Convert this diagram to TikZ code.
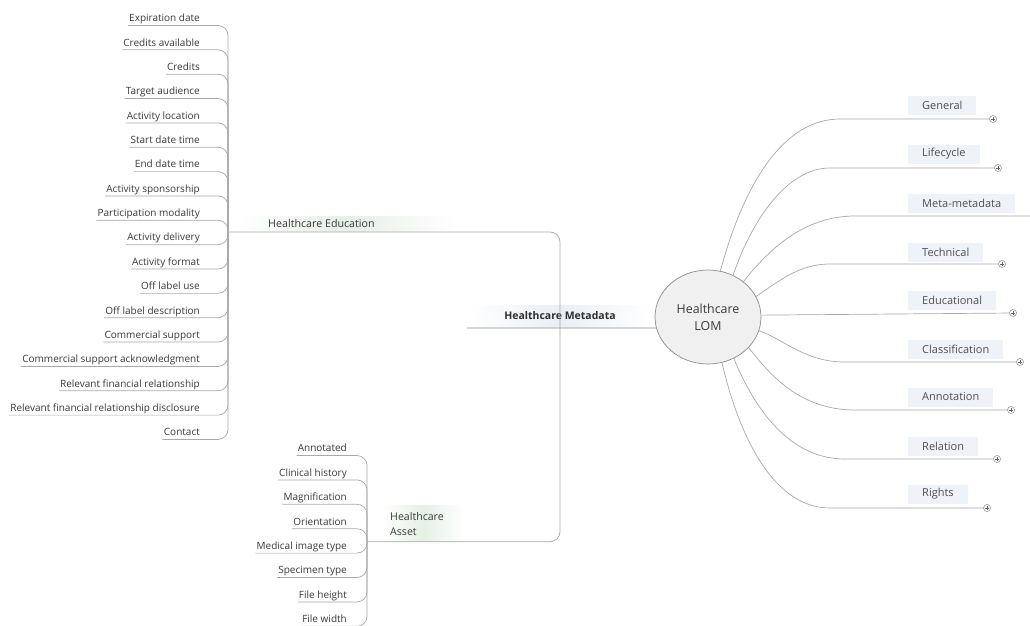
\documentclass[tikz,border=0pt]{standalone}
\usepackage{fontspec}
\setmainfont{Open Sans}
\usetikzlibrary{shapes.geometric}
\definecolor{txt}{HTML}{3A3A3A}
\definecolor{rtxt}{HTML}{505050}
\definecolor{ln}{HTML}{A9A9A9}
\definecolor{bluebg}{HTML}{EEF2F9}
\definecolor{greenbg}{HTML}{E4F1E4}
\definecolor{metabg}{HTML}{EAEFF6}
\definecolor{lomfill}{HTML}{F0F0F0}
\definecolor{lomdraw}{HTML}{8C8C8C}
\tikzset{
  conn/.style={draw=ln, line width=0.7pt},
  leaf/.style={anchor=base east, inner xsep=1pt, inner ysep=0pt, text depth=3.5pt, text height=7pt, font=\fontsize{10}{11}\selectfont, text=txt},
  rlabel/.style={anchor=west, fill=bluebg, inner xsep=14pt, minimum height=19pt, font=\fontsize{11}{12}\selectfont, text=rtxt},
  expander/.style={circle, draw=ln!80!black, fill=white, minimum size=7pt, inner sep=0pt, line width=0.5pt,
    path picture={\draw[line width=0.4pt, ln!60!black]
      ([xshift=-1.6pt]path picture bounding box.center) -- ([xshift=1.6pt]path picture bounding box.center)
      ([yshift=-1.6pt]path picture bounding box.center) -- ([yshift=1.6pt]path picture bounding box.center);}},
}
\begin{document}
\begin{tikzpicture}[x=1pt,y=-1pt]
\fill[white] (0,0) rectangle (1030,626);
\useasboundingbox (0,0) rectangle (1030,626);

% ---------- central ellipse ----------
\node[ellipse, draw=lomdraw, fill=lomfill, line width=0.7pt, minimum width=106pt, minimum height=94pt, inner sep=0pt,
      align=center, font=\fontsize{12.4}{17}\selectfont, text=txt] (lom) at (708,317) {Healthcare\\LOM};

% ---------- Healthcare Metadata ----------
\shade[left color=white, right color=white, middle color=metabg] (470,305) rectangle (650,327);
\node[font=\fontsize{10.5}{12}\selectfont\bfseries, text=txt!80!black, inner sep=0pt] (meta) at (560,316) {Healthcare Metadata};
\coordinate (meta-l) at (467,328);
\coordinate (mj) at (560,328);
\draw[conn, draw=ln!85!black] (meta-l) -- (lom.192);

% ---------- Healthcare Education ----------
\shade[left color=white, right color=white, middle color=greenbg] (238,216) rectangle (456,231);
\node[anchor=west, inner sep=0pt, font=\fontsize{10.7}{12}\selectfont, text=txt] (edu) at (268,223) {Healthcare Education};
\coordinate (edu-l) at (228,232);
\draw[conn, rounded corners=10pt] (mj) |- (edu-l);

% ---------- Healthcare Asset ----------
\shade[left color=white, right color=white, middle color=greenbg] (382,505) rectangle (464,541);
\node[anchor=west, inner sep=0pt, align=left, font=\fontsize{10.6}{15}\selectfont, text=txt] (asset) at (390,524.5) {Healthcare\\Asset};
\coordinate (asset-l) at (367,541.7);
\draw[conn, rounded corners=10pt] (mj) |- (asset-l);

% ---------- Education children ----------
\foreach \t [count=\i] in {Expiration date, Credits available, Credits, Target audience, Activity location,
  Start date time, End date time, Activity sponsorship, Participation modality, Activity delivery,
  Activity format, Off label use, Off label description, Commercial support,
  Commercial support acknowledgment, Relevant financial relationship,
  Relevant financial relationship disclosure, Contact} {
  \pgfmathsetmacro\yy{18.3+24.35*(\i-1)+3.5}
  \node[leaf] (e\i) at (201,\yy) {\t};
  \draw[conn, rounded corners=10pt] (edu-l) |- (e\i.south west);
}

% ---------- Asset children ----------
\foreach \t [count=\i] in {Annotated, Clinical history, Magnification, Orientation,
  Medical image type, Specimen type, File height, File width} {
  \pgfmathsetmacro\yy{448.3+24.4*(\i-1)+3.5}
  \node[leaf] (a\i) at (348,\yy) {\t};
  \draw[conn, rounded corners=10pt] (asset-l) |- (a\i.south west);
}

% ---------- LOM children ----------
\node[rlabel] (gen) at (908,105) {General};
\coordinate (gen-s) at (840,119);
\node[expander] (gen-x) at (993,119) {};
\draw[conn] (lom.75) .. controls (745,180) and (785,119) .. (gen-s) -- (gen-x);

\node[rlabel] (life) at (908,154) {Lifecycle};
\coordinate (life-s) at (830,168);
\node[expander] (life-x) at (998,168) {};
\draw[conn] (lom.59) .. controls (750,225) and (785,168) .. (life-s) -- (life-x);

\node[rlabel] (mm) at (908,203) {Meta-metadata};
\coordinate (mm-s) at (855,216);
\coordinate (mm-e) at (1030,216);
\draw[conn] (lom.45) .. controls (770,248) and (805,216) .. (mm-s) -- (mm-e);

\node[rlabel] (tech) at (908,252) {Technical};
\coordinate (tech-s) at (830,264);
\node[expander] (tech-x) at (1002,264) {};
\draw[conn] (lom.23) .. controls (780,280) and (800,264) .. (tech-s) -- (tech-x);

\node[rlabel] (educ) at (908,300) {Educational};
\node[expander] (educ-x) at (1013,313) {};
\draw[conn] (lom.2) -- (educ-x);

\node[rlabel] (cls) at (908,349) {Classification};
\coordinate (cls-s) at (845,362);
\node[expander] (cls-x) at (1020,362) {};
\draw[conn] (lom.-15) .. controls (785,340) and (805,362) .. (cls-s) -- (cls-x);

\node[rlabel] (ann) at (908,397) {Annotation};
\coordinate (ann-s) at (855,410);
\node[expander] (ann-x) at (1011,410) {};
\draw[conn] (lom.-37) .. controls (770,375) and (800,410) .. (ann-s) -- (ann-x);

\node[rlabel] (rel) at (908,446) {Relation};
\coordinate (rel-s) at (845,459);
\node[expander] (rel-x) at (997,459) {};
\draw[conn] (lom.-58) .. controls (755,410) and (790,459) .. (rel-s) -- (rel-x);

\node[rlabel] (rig) at (908,494) {Rights};
\coordinate (rig-s) at (830,508);
\node[expander] (rig-x) at (987,508) {};
\draw[conn] (lom.-73) .. controls (740,440) and (775,508) .. (rig-s) -- (rig-x);
\end{tikzpicture}
\end{document}
